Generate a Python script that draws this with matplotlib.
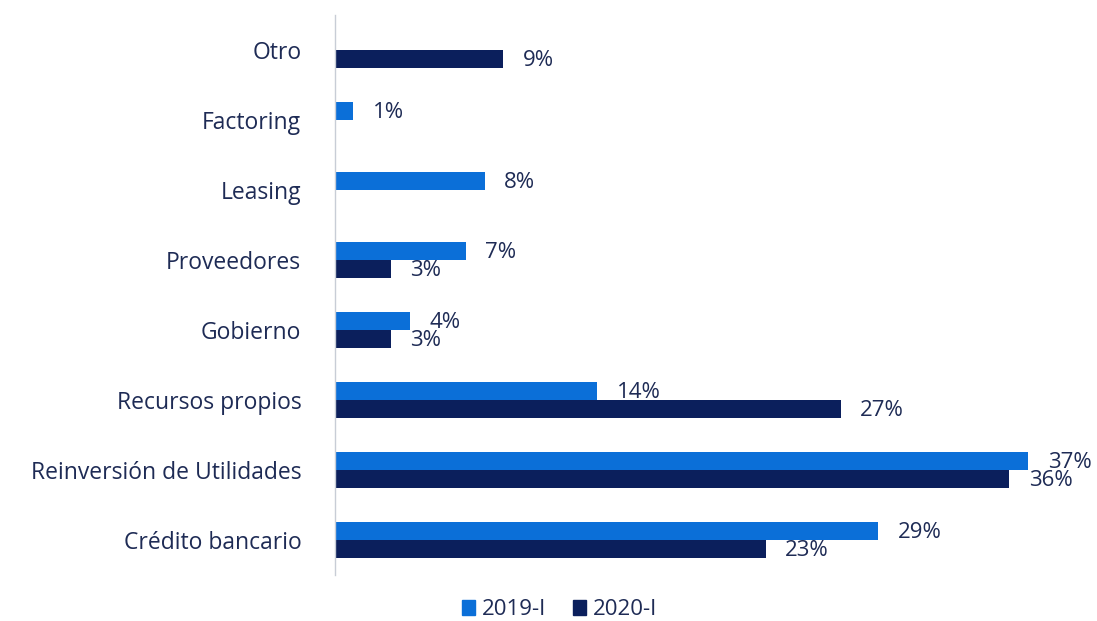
import matplotlib
matplotlib.use("Agg")
import matplotlib.pyplot as plt
import numpy as np

categories = ["Crédito bancario", "Reinversión de Utilidades", "Recursos propios",
              "Gobierno", "Proveedores", "Leasing", "Factoring", "Otro"]
series_names = ["2019-I", "2020-I"]
values_2019 = [29, 37, 14, 4, 7, 8, 1, None]
values_2020 = [23, 36, 27, 3, 3, None, None, 9]

colors = ["#0B6FD8", "#0B1F5C"]
text_color = "#1E2B55"

plt.rcParams['font.family'] = ['Open Sans', 'DejaVu Sans']

fig = plt.figure(figsize=(10.97, 6.21), dpi=100)
ax = fig.add_axes([0.305, 0.074, 0.687, 0.902])

y = np.arange(len(categories))
h = 0.257
for vals, off, col in [(values_2019, h / 2, colors[0]), (values_2020, -h / 2, colors[1])]:
    for i, v in enumerate(vals):
        if v is None:
            continue
        ax.barh(y[i] + off, v, height=h, color=col)
        ax.annotate(f"{v}%", xy=(v, y[i] + off), xytext=(14, -1), textcoords="offset points",
                    ha="left", va="center", fontsize=16, color=text_color)

ax.set_xlim(0, 40.2)
ax.set_ylim(-0.5, 7.5)
ax.set_yticks(y)
ax.set_yticklabels(categories, fontsize=16.5, color=text_color)
ax.tick_params(axis='y', length=0, pad=24)
ax.set_xticks([])
for s in ["top", "right", "bottom"]:
    ax.spines[s].set_visible(False)
ax.spines["left"].set_color("#C8CDD6")
ax.spines["left"].set_linewidth(1.0)

handles = [plt.Rectangle((0, 0), 1, 1, color=c) for c in colors]
fig.legend(handles, series_names, loc="center", bbox_to_anchor=(0.51, 0.018), ncol=2,
           frameon=False, fontsize=16, handlelength=0.6, handleheight=0.6,
           handletextpad=0.3, columnspacing=1.2, labelcolor=text_color)

fig.savefig("out.png", dpi=100)
